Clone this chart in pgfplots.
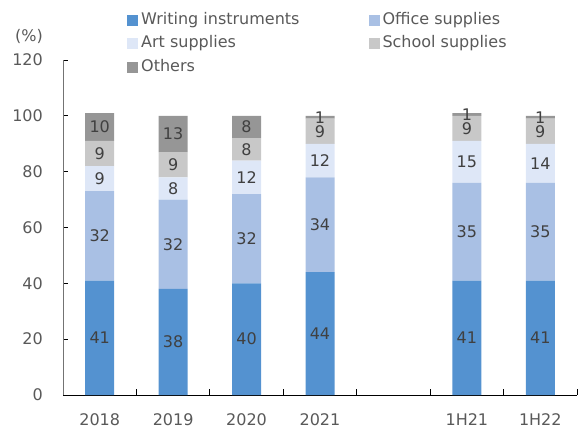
\documentclass[border=0pt]{standalone}
\usepackage{pgfplots}
\pgfplotsset{compat=1.18}
\usepackage{pgfplotstable}
\usepackage{fontspec}
\setmainfont{DejaVu Sans}

\definecolor{cwrite}{RGB}{84,146,208}
\definecolor{coffice}{RGB}{169,192,228}
\definecolor{cart}{RGB}{222,231,247}
\definecolor{cschool}{RGB}{200,200,200}
\definecolor{cother}{RGB}{150,150,150}
\definecolor{ctext}{RGB}{89,89,89}
\definecolor{clab}{RGB}{64,64,64}
\newcommand{\fsz}{\fontsize{16}{19}\selectfont}

% share of sales by category, %
\pgfplotstableread{
x writing office art school others
0 41 32 9  9 10
1 38 32 8  9 13
2 40 32 12 8 8
3 44 34 12 9 1
5 41 35 15 9 1
6 41 35 14 9 1
}\shares

\pgfplotsset{
  sq/.style={draw=none, fill=#1,
    legend image code/.code={\fill[#1] (0pt,-5.5pt) rectangle (11pt,5.5pt);}},
}

\begin{document}
\begin{tikzpicture}
\path[use as bounding box] (0,0) rectangle (578pt,432pt);
\begin{axis}[
  at={(63pt,37pt)}, anchor=south west,
  scale only axis, width=514pt, height=335pt,
  ybar stacked, bar width=0.395,
  xmin=-0.5, xmax=6.5, ymin=0, ymax=120,
  axis lines*=left,
  axis line style={-, line width=0.8pt},
  x axis line style={black},
  y axis line style={color=black!55},
  ytick={0,20,...,120},
  xtick={0,1,2,3,5,6},
  xticklabels={2018,2019,2020,2021,1H21,1H22},
  minor xtick={-0.5,0.5,...,6.5},
  tick align=inside, major tick length=5pt, minor tick length=6pt,
  tick style={black, line width=0.8pt},
  every major x tick/.append style={draw=none},
  /pgf/number format/assume math mode=true,
  yticklabel style={font=\fsz, text=ctext, inner xsep=0pt, xshift=-20pt},
  xticklabel style={font=\fsz, text=ctext, inner ysep=0pt, yshift=-18pt},
  ylabel={(\%)},
  ylabel style={rotate=-90, font=\fsz, text=ctext,
    at={(axis description cs:-0.066,1.07)}, anchor=center},
  legend columns=2,
  legend cell align=left,
  legend style={at={(axis description cs:0.1245,1.143)}, anchor=north west,
    draw=none, fill=none, font=\fsz, text=ctext, inner sep=0pt,
    row sep=7.5pt,
    nodes={inner xsep=3pt, inner ysep=0pt, text height=12pt, text depth=4pt},
    /tikz/every even column/.append style={column sep=66pt}},
  point meta=explicit,
  nodes near coords,
  nodes near coords style={font=\fsz, text=clab, anchor=center},
]
\addplot[sq=cwrite]  table[x=x, y=writing, meta=writing] {\shares};
\addplot[sq=coffice] table[x=x, y=office,  meta=office]  {\shares};
\addplot[sq=cart]    table[x=x, y=art,     meta=art]     {\shares};
\addplot[sq=cschool] table[x=x, y=school,  meta=school]  {\shares};
\addplot[sq=cother]  table[x=x, y=others,  meta=others]  {\shares};
\legend{Writing instruments, Office supplies, Art supplies, School supplies, Others}
\end{axis}
\end{tikzpicture}
\end{document}
